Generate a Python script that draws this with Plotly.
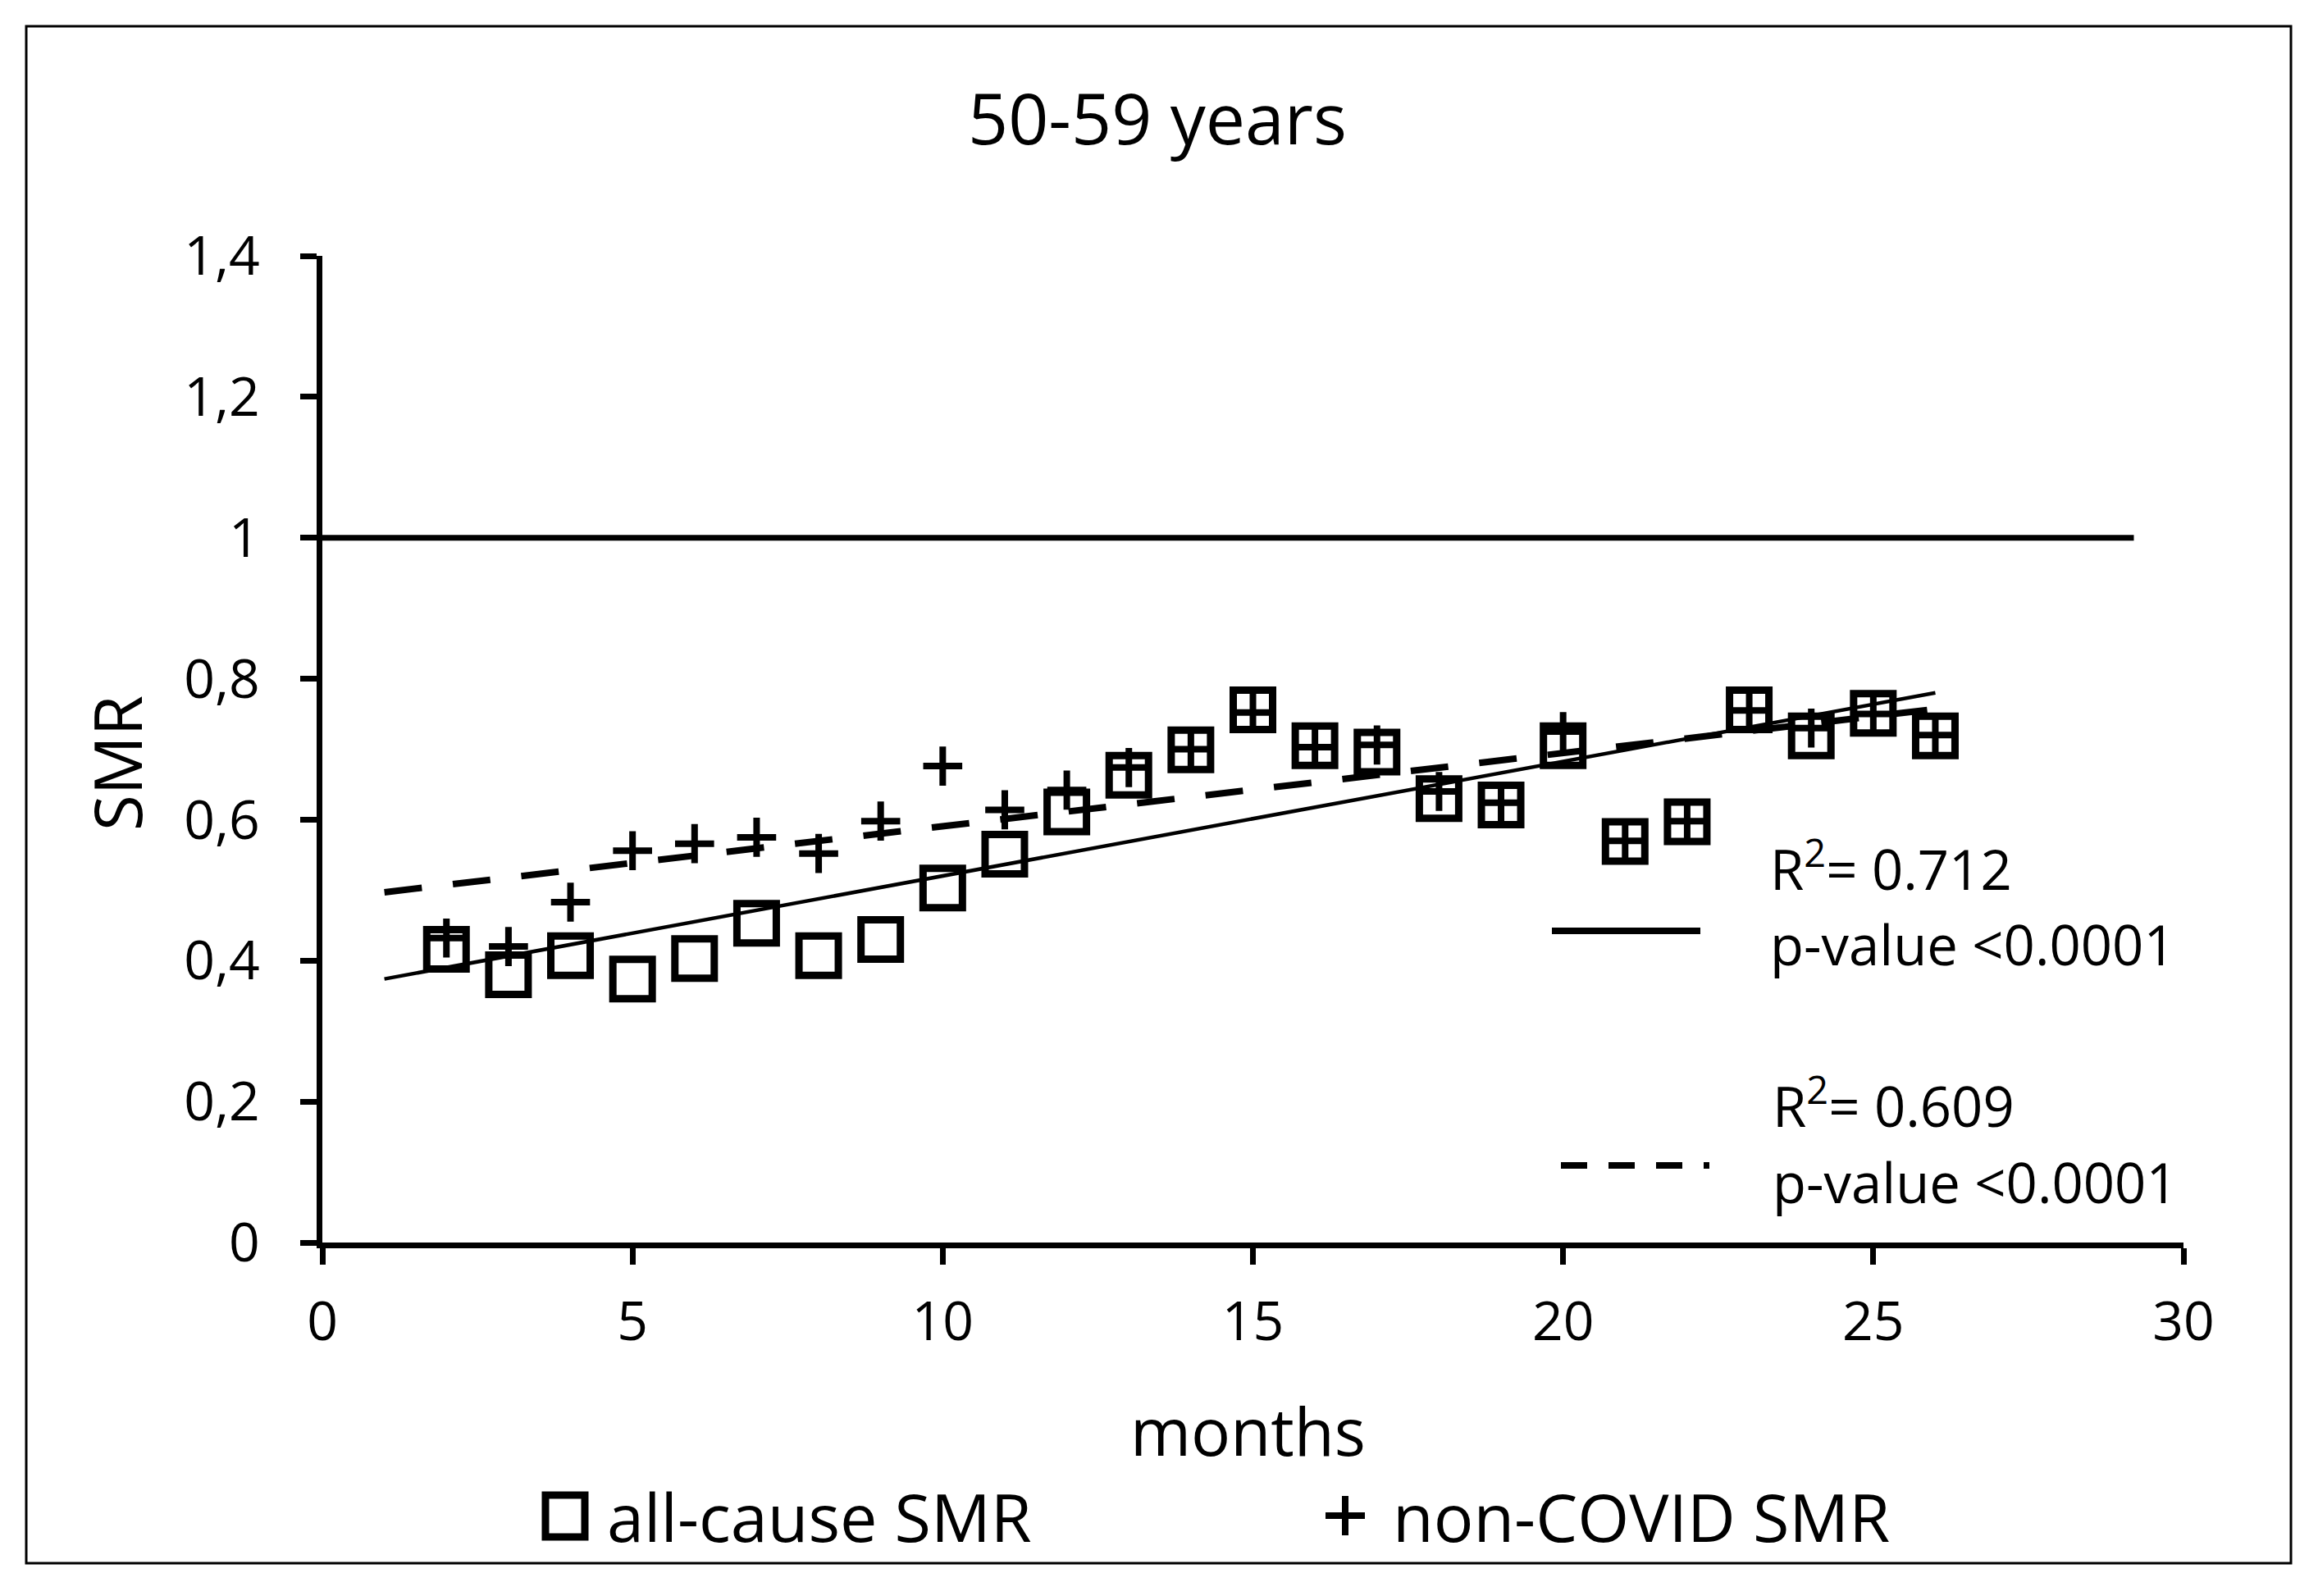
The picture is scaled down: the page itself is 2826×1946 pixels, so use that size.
import plotly.graph_objects as go

# ---------------- data ----------------
months = [2, 3, 4, 5, 6, 7, 8, 9, 10, 11, 12, 13, 14, 15, 16, 17, 18, 19, 20, 21, 22, 23, 24, 25, 26]
all_cause_smr = [0.416, 0.380, 0.407, 0.374, 0.403, 0.453, 0.407, 0.430, 0.503, 0.551, 0.611, 0.663, 0.699,
                 0.756, 0.705, 0.696, 0.630, 0.621, 0.705, 0.569, 0.597, 0.756, 0.719, 0.751, 0.719]
non_covid_smr = [0.432, 0.420, 0.483, 0.556, 0.566, 0.575, 0.552, 0.598, 0.676, 0.614, 0.642, 0.674, 0.700,
                 0.752, 0.703, 0.706, 0.640, 0.624, 0.725, 0.570, 0.598, 0.755, 0.730, 0.750, 0.720]

trend_all_x = [1, 26]
trend_all_y = [0.374, 0.780]
trend_non_x = [1, 26]
trend_non_y = [0.497, 0.757]

ref_x = [0, 29.2]
ref_y = [1, 1]

x_tickvals = [0, 5, 10, 15, 20, 25, 30]
x_ticktext = ["0", "5", "10", "15", "20", "25", "30"]
y_tickvals = [0, 0.2, 0.4, 0.6, 0.8, 1.0, 1.2, 1.4]
y_ticktext = ["0", "0,2", "0,4", "0,6", "0,8", "1", "1,2", "1,4"]

title_text = "50-59 years"
x_title = "months"
y_title = "SMR"
legend_labels = ["all-cause SMR", "non-COVID SMR"]
stats_all = ["R<sup>2</sup>= 0.712", "p-value <0.0001"]
stats_non = ["R<sup>2</sup>= 0.609", "p-value <0.0001"]

# ---------------- layout geometry (target pixels on the page) ----------------
W, H = 2826, 1946
OFF = 8  # page body margin offset
L, R, T, B = 393, 2662, 312, 1515
PW, PH = R - L, B - T
FONT = "Open Sans"
BLACK = "#000000"


def px(xp):
    return (xp - L) / PW


def py(yp):
    return (B - yp) / PH


fig = go.Figure()

fig.add_trace(go.Scatter(x=ref_x, y=ref_y, mode="lines", line=dict(color=BLACK, width=7),
                         hoverinfo="skip", showlegend=False))
fig.add_trace(go.Scatter(x=trend_all_x, y=trend_all_y, mode="lines", line=dict(color=BLACK, width=4.5),
                         showlegend=False))
fig.add_trace(go.Scatter(x=trend_non_x, y=trend_non_y, mode="lines",
                         line=dict(color=BLACK, width=8, dash="46px,38px"), showlegend=False))
fig.add_trace(go.Scatter(x=months, y=all_cause_smr, mode="markers", name=legend_labels[0],
                         marker=dict(symbol="square-open", size=48, color=BLACK,
                                     line=dict(color=BLACK, width=9)), showlegend=False))
fig.add_trace(go.Scatter(x=months, y=non_covid_smr, mode="markers", name=legend_labels[1],
                         marker=dict(symbol="cross-thin-open", size=34, color=BLACK,
                                     line=dict(color=BLACK, width=8)), showlegend=False))

annotations = [
    dict(text=title_text, x=px(1411), y=py(142), xanchor="center", yanchor="middle",
         font=dict(family=FONT, size=86, color=BLACK)),
    dict(text=x_title, x=px(1521), y=py(1743), xanchor="center", yanchor="middle",
         font=dict(family=FONT, size=80, color=BLACK)),
    dict(text=y_title, x=px(141), y=py(931), xanchor="center", yanchor="middle", textangle=-90,
         font=dict(family=FONT, size=80, color=BLACK)),
    dict(text=legend_labels[0], x=px(738), y=py(1848), xanchor="left", yanchor="middle",
         font=dict(family=FONT, size=81, color=BLACK)),
    dict(text=legend_labels[1], x=px(1696), y=py(1848), xanchor="left", yanchor="middle",
         font=dict(family=FONT, size=81, color=BLACK)),
    dict(text=stats_all[0], x=px(2156), y=py(1056), xanchor="left", yanchor="middle",
         font=dict(family=FONT, size=67, color=BLACK)),
    dict(text=stats_all[1], x=px(2156), y=py(1151), xanchor="left", yanchor="middle",
         font=dict(family=FONT, size=67, color=BLACK)),
    dict(text=stats_non[0], x=px(2159), y=py(1345), xanchor="left", yanchor="middle",
         font=dict(family=FONT, size=67, color=BLACK)),
    dict(text=stats_non[1], x=px(2159), y=py(1441), xanchor="left", yanchor="middle",
         font=dict(family=FONT, size=67, color=BLACK)),
]
for a in annotations:
    a.update(xref="paper", yref="paper", showarrow=False)

shapes = [
    # outer frame
    dict(type="rect", xref="paper", yref="paper", x0=px(32), x1=px(2793), y0=py(1906), y1=py(32),
         line=dict(color=BLACK, width=3)),
    # legend square symbol
    dict(type="rect", xref="paper", yref="paper", x0=px(665), x1=px(713), y0=py(1874), y1=py(1823),
         line=dict(color=BLACK, width=9)),
    # legend plus symbol
    dict(type="line", xref="paper", yref="paper", x0=px(1616), x1=px(1664), y0=py(1848), y1=py(1848),
         line=dict(color=BLACK, width=8)),
    dict(type="line", xref="paper", yref="paper", x0=px(1640), x1=px(1640), y0=py(1872), y1=py(1824),
         line=dict(color=BLACK, width=8)),
    # trend line samples next to the statistics
    dict(type="line", xref="paper", yref="paper", x0=px(1892), x1=px(2073), y0=py(1135), y1=py(1135),
         line=dict(color=BLACK, width=8)),
    dict(type="line", xref="paper", yref="paper", x0=px(1903), x1=px(2084), y0=py(1421), y1=py(1421),
         line=dict(color=BLACK, width=8, dash="32px,26px")),
]

fig.update_layout(
    width=W - 2 * OFF, height=H - 2 * OFF,
    margin=dict(l=L - OFF, r=W - OFF - R, t=T - OFF, b=H - OFF - B, pad=0),
    paper_bgcolor="white", plot_bgcolor="white",
    font=dict(family=FONT, color=BLACK),
    showlegend=False,
    annotations=annotations,
    shapes=shapes,
    xaxis=dict(range=[0, 30], tickvals=x_tickvals, ticktext=x_ticktext, showgrid=False, zeroline=False,
               showline=True, linecolor=BLACK, linewidth=7, ticks="outside", ticklen=20, tickwidth=7,
               tickcolor=BLACK, tickfont=dict(family=FONT, size=66, color=BLACK), ticklabelstandoff=13),
    yaxis=dict(range=[0, 1.4], tickvals=y_tickvals, ticktext=y_ticktext, showgrid=False, zeroline=False,
               showline=True, linecolor=BLACK, linewidth=7, ticks="outside", ticklen=20, tickwidth=7,
               tickcolor=BLACK, tickfont=dict(family=FONT, size=66, color=BLACK), ticklabelstandoff=36),
)

fig.write_html("out.html")
